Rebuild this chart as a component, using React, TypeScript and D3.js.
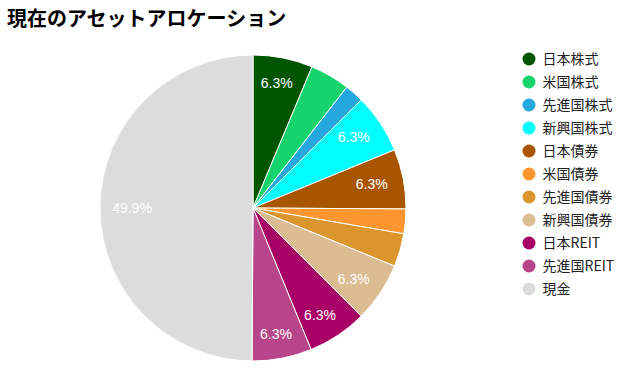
import {useEffect, useRef} from "react";
import * as d3 from "d3";

const title = "現在のアセットアロケーション";
const categories = ["日本株式", "米国株式", "先進国株式", "新興国株式", "日本債券", "米国債券", "先進国債券", "新興国債券", "日本REIT", "先進国REIT", "現金"];
const shares = [6.3, 4.2, 2.0, 6.3, 6.3, 2.6, 3.5, 6.3, 6.3, 6.3, 49.9];
const colors = ["#005500", "#16d46b", "#22a8dc", "#00ffff", "#a85500", "#ff9630", "#dc942c", "#dcbd93", "#a80064", "#b8458a", "#dcdcdc"];
const labelMin = 5; // smaller slices get no text

const App = () => {
    const svgRef = useRef<SVGSVGElement>(null);

    useEffect(() => {
        const svg = d3.select(svgRef.current);
        svg.selectAll("*").remove();

        const cx = 253, cy = 208, r = 153;
        const data = categories.map((c, i) => ({name: c, value: shares[i], color: colors[i]}));

        svg.append("text")
            .attr("x", 7)
            .attr("y", 26)
            .attr("font-family", "'Noto Sans CJK JP', sans-serif")
            .attr("font-weight", "bold")
            .attr("font-size", 20)
            .attr("fill", "#000")
            .text(title);

        const pie = d3.pie<any>().sort(null).value(d => d.value);
        const arc = d3.arc<any>().innerRadius(0).outerRadius(r);
        const arcs = pie(data);

        const g = svg.append("g").attr("transform", `translate(${cx},${cy})`);
        g.selectAll("path")
            .data(arcs)
            .enter()
            .append("path")
            .attr("d", arc)
            .attr("fill", d => d.data.color)
            .attr("stroke", "#fff")
            .attr("stroke-width", 1);

        // slice percentages
        g.selectAll("text.lbl")
            .data(arcs.filter(d => d.data.value >= labelMin))
            .enter()
            .append("text")
            .attr("class", "lbl")
            .attr("x", d => Math.sin((d.startAngle + d.endAngle) / 2) * 121)
            .attr("y", d => -Math.cos((d.startAngle + d.endAngle) / 2) * 128)
            .attr("dy", "0.36em")
            .attr("text-anchor", "middle")
            .attr("font-family", "Arial, 'Liberation Sans', sans-serif")
            .attr("font-size", 14)
            .attr("fill", "#fff")
            .text(d => d.data.value.toFixed(1) + "%");

        // legend
        const legend = svg.append("g").attr("transform", "translate(529,59)");
        const item = legend.selectAll("g")
            .data(data)
            .enter()
            .append("g")
            .attr("transform", (d, i) => `translate(0,${i * 23})`);
        item.append("circle")
            .attr("r", 6.5)
            .attr("fill", d => d.color);
        item.append("text")
            .attr("x", 13.5)
            .attr("dy", "0.36em")
            .attr("font-family", "'Noto Sans CJK JP', sans-serif")
            .attr("font-size", 14)
            .attr("fill", "#222")
            .text(d => d.name);
    }, []);

    return (
        <svg ref={svgRef} width={631} height={374} style={{position: "absolute", left: 0, top: 0}}></svg>
    );
};

export default App;
